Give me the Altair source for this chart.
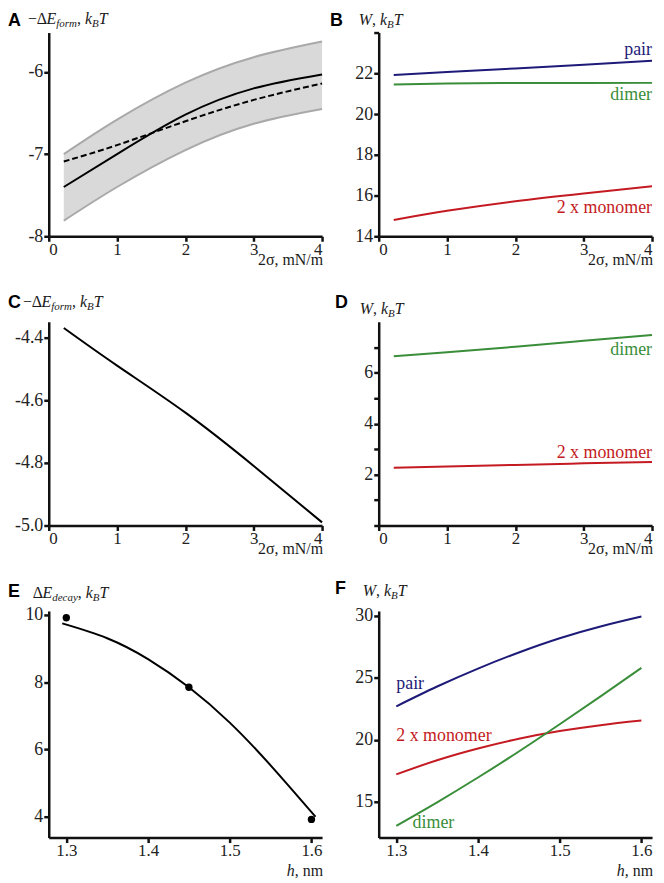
import altair as alt
import pandas as pd

SERIF = "Liberation Serif"
SANS = "Liberation Sans"
NAVY = "#1d1a78"
GREEN = "#3a8e3a"
RED = "#c41a22"
BAND = "#d9d9d9"
BAND_EDGE = "#a9a9a9"
INK = "#1a1a1a"

# ---------------- data ----------------
# Panel A
A_sigma = [0.22, 1, 2, 3, 4]
A_upper = [-7.00, -6.58, -6.13, -5.82, -5.63]
A_lower = [-7.81, -7.40, -6.95, -6.63, -6.45]
A_solid = [-7.40, -7.00, -6.52, -6.20, -6.03]
A_dashed = [-7.09, -6.89, -6.60, -6.34, -6.14]

# Panel B
B_sigma = [0.22, 1, 2, 3, 4]
B_pair = [21.92, 22.06, 22.24, 22.42, 22.61]
B_dimer = [21.45, 21.50, 21.52, 21.52, 21.53]
B_monomer = [14.80, 15.25, 15.72, 16.10, 16.46]
B_labels = ["pair", "dimer", "2 x monomer"]
B_label_x = [4, 4, 4]
B_label_y = [22.9, 20.67, 15.14]
B_label_color = [NAVY, GREEN, RED]

# Panel C
C_sigma = [0.22, 1, 2, 3, 4]
C_energy = [-4.37, -4.49, -4.64, -4.81, -4.99]

# Panel D
D_sigma = [0.22, 1, 2, 3, 4]
D_dimer = [6.65, 6.80, 7.02, 7.25, 7.48]
D_monomer = [2.27, 2.32, 2.38, 2.44, 2.49]
D_labels = ["dimer", "2 x monomer"]
D_label_x = [4, 4]
D_label_y = [6.71, 2.66]
D_label_color = [GREEN, RED]

# Panel E
E_pts_h = [1.3, 1.45, 1.6]
E_pts_v = [9.92, 7.85, 3.92]
E_fit_h = [1.295, 1.35, 1.4, 1.45, 1.5, 1.55, 1.605]
E_fit_v = [9.75, 9.31, 8.69, 7.85, 6.80, 5.53, 4.00]

# Panel F
F_h = [1.3, 1.35, 1.4, 1.45, 1.5, 1.55, 1.6]
F_pair = [22.7, 24.3, 25.75, 27.05, 28.2, 29.15, 29.95]
F_monomer = [17.2, 18.35, 19.3, 20.08, 20.7, 21.18, 21.55]
F_dimer = [13.05, 14.95, 16.95, 19.05, 21.25, 23.5, 25.8]
F_labels = ["pair", "2 x monomer", "dimer"]
F_label_x = [1.3, 1.3, 1.32]
F_label_y = [24.06, 19.9, 12.85]
F_label_color = [NAVY, RED, GREEN]

# ---------------- layout constants ----------------
PW = 275
PH1 = 205
PH3 = 228
ONE = pd.DataFrame({"k": [0]})

W_REG = {' ': 250, ',': 250, '\u2212': 564, '\u0394': 612, 'E': 611, 'W': 944,
         'k': 500, 'B': 667, 'T': 611, 'h': 500, 'n': 500, 'm': 778}
W_IT = {' ': 250, ',': 250, 'E': 611, 'W': 833, 'k': 444, 'B': 611, 'T': 556,
        'f': 278, 'o': 500, 'r': 389, 'm': 722, 'd': 500, 'e': 444, 'c': 444,
        'a': 500, 'y': 444, 'h': 500}


def text_width(s, size, italic):
    table = W_IT if italic else W_REG
    return sum(table.get(ch, 500) for ch in s) * size / 1000.0


def rich_text(pieces, x0, y0, align_right=False):
    total = sum(text_width(t, s, it) for t, s, it, dy in pieces)
    x = x0 - total if align_right else x0
    layers = []
    for t, s, it, dy in pieces:
        layers.append(
            alt.Chart(ONE).mark_text(
                text=t, font=SERIF, fontSize=s,
                fontStyle="italic" if it else "normal",
                align="left", baseline="alphabetic", color=INK,
            ).encode(x=alt.value(x), y=alt.value(y0 + dy))
        )
        x += text_width(t, s, it)
    return layers


def letter(ch, x, y):
    return alt.Chart(ONE).mark_text(
        text=ch, font=SANS, fontWeight="bold", fontSize=18,
        align="left", baseline="alphabetic", color="black",
    ).encode(x=alt.value(x), y=alt.value(y))


def plain_text(t, x, y, size=16, align="right"):
    return alt.Chart(ONE).mark_text(
        text=t, font=SERIF, fontSize=size, align=align,
        baseline="alphabetic", color=INK,
    ).encode(x=alt.value(x), y=alt.value(y))


AXIS_STYLE = dict(
    title=None, domainColor="#111111", domainWidth=2.5, tickColor="#111111",
    tickWidth=2.5, tickSize=5, labelFont=SERIF, labelColor="#222222", grid=False,
)


def xenc(field, dom, vals, fmt=None):
    kw = dict(values=vals, labelFontSize=17, labelPadding=0, **AXIS_STYLE)
    if fmt:
        kw["format"] = fmt
    return alt.X(field, type="quantitative",
                 scale=alt.Scale(domain=dom, nice=False, zero=False),
                 axis=alt.Axis(**kw))


def yenc(field, dom, vals, fmt=None, expr=None):
    kw = dict(values=vals, labelFontSize=18, labelPadding=1, **AXIS_STYLE)
    if fmt:
        kw["format"] = fmt
    kw["labelExpr"] = expr if expr else "replace(datum.label, '\u2212', '-')"
    return alt.Y(field, type="quantitative",
                 scale=alt.Scale(domain=dom, nice=False, zero=False),
                 axis=alt.Axis(**kw))


def line(df, xe, ye, color, width=2, dash=None, interp="natural"):
    kw = dict(color=color, strokeWidth=width, interpolate=interp)
    if dash:
        kw["strokeDash"] = dash
    return alt.Chart(df).mark_line(**kw).encode(x=xe, y=ye)


def labels(df, xe, ye, align):
    return alt.Chart(df).mark_text(
        font=SERIF, fontSize=18, align=align, baseline="alphabetic"
    ).encode(x=xe, y=ye, text="label:N",
             color=alt.Color("color:N", scale=None))


TITLE_E_FORM = [("\u2212\u0394", 16, False, 0), ("E", 16, True, 0), ("form", 11, True, 3),
                (", ", 16, False, 0), ("k", 16, True, 0), ("B", 11, True, 3), ("T", 16, True, 0)]
TITLE_W = [("W", 16, True, 0), (", ", 16, False, 0), ("k", 16, True, 0),
           ("B", 11, True, 3), ("T", 16, True, 0)]
TITLE_E_DECAY = [("\u0394", 16, False, 0), ("E", 16, True, 0), ("decay", 11, True, 3),
                 (", ", 16, False, 0), ("k", 16, True, 0), ("B", 11, True, 3), ("T", 16, True, 0)]
XT_H = [("h", 16, True, 0), (", nm", 16, False, 0)]

SIG_VALS = [0, 1, 2, 3, 4]
H_DOM = [1.2785, 1.613]
H_VALS = [1.3, 1.4, 1.5, 1.6]

# ---------------- Panel A ----------------
dfA = pd.DataFrame({"s": A_sigma, "up": A_upper, "lo": A_lower,
                    "solid": A_solid, "dash": A_dashed})
xa = xenc("s", [0, 4], SIG_VALS)
ya_dom = [-8, -5.52]
ya_vals = [-8, -7, -6]
panelA = alt.layer(
    alt.Chart(dfA).mark_area(color=BAND, opacity=1, interpolate="natural").encode(
        x=xa, y=yenc("lo", ya_dom, ya_vals), y2="up:Q"),
    line(dfA, xa, yenc("up", ya_dom, ya_vals), BAND_EDGE),
    line(dfA, xa, yenc("lo", ya_dom, ya_vals), BAND_EDGE),
    line(dfA, xa, yenc("solid", ya_dom, ya_vals), "black"),
    line(dfA, xa, yenc("dash", ya_dom, ya_vals), "black", dash=[6, 3]),
    *rich_text(TITLE_E_FORM, -21, -9),
    plain_text("2\u03c3, mN/m", 276, PH1 + 29),
    letter("A", -41, -7),
).properties(width=PW, height=PH1)

# ---------------- Panel B ----------------
dfB = pd.DataFrame({"s": B_sigma, "pair": B_pair, "dimer": B_dimer, "mono": B_monomer})
dfBl = pd.DataFrame({"x": B_label_x, "y": B_label_y, "label": B_labels, "color": B_label_color})
xb = xenc("s", [0, 4], SIG_VALS)
yb_dom = [14, 24]
yb_vals = [14, 16, 18, 20, 22, 24]
yb_expr = "datum.value >= 24 ? '' : datum.label"
panelB = alt.layer(
    line(dfB, xb, yenc("pair", yb_dom, yb_vals, expr=yb_expr), NAVY),
    line(dfB, xb, yenc("dimer", yb_dom, yb_vals, expr=yb_expr), GREEN),
    line(dfB, xb, yenc("mono", yb_dom, yb_vals, expr=yb_expr), RED),
    labels(dfBl, xenc("x", [0, 4], SIG_VALS), yenc("y", yb_dom, yb_vals, expr=yb_expr), "right"),
    *rich_text(TITLE_W, -20, -8),
    plain_text("2\u03c3, mN/m", 276, PH1 + 29),
    letter("B", -49, -7),
).properties(width=PW, height=PH1)

# ---------------- Panel C ----------------
dfC = pd.DataFrame({"s": C_sigma, "e": C_energy})
panelC = alt.layer(
    line(dfC, xenc("s", [0, 4], SIG_VALS),
         yenc("e", [-5.0, -4.35], [-5.0, -4.8, -4.6, -4.4], fmt=".1f"), "black"),
    *rich_text(TITLE_E_FORM, -26, -15),
    plain_text("2\u03c3, mN/m", 276, PH1 + 29),
    letter("C", -41, -14),
).properties(width=PW, height=PH1)

# ---------------- Panel D ----------------
dfD = pd.DataFrame({"s": D_sigma, "dimer": D_dimer, "mono": D_monomer})
dfDl = pd.DataFrame({"x": D_label_x, "y": D_label_y, "label": D_labels, "color": D_label_color})
yd_dom = [0, 8]
yd_vals = [0, 1, 2, 3, 4, 5, 6, 7]
yd_expr = "(datum.value % 2 == 0 && datum.value > 0) ? datum.label : ''"
xd = xenc("s", [0, 4], SIG_VALS)
panelD = alt.layer(
    line(dfD, xd, yenc("dimer", yd_dom, yd_vals, expr=yd_expr), GREEN),
    line(dfD, xd, yenc("mono", yd_dom, yd_vals, expr=yd_expr), RED),
    labels(dfDl, xenc("x", [0, 4], SIG_VALS), yenc("y", yd_dom, yd_vals, expr=yd_expr), "right"),
    *rich_text(TITLE_W, -19, -8),
    plain_text("2\u03c3, mN/m", 276, PH1 + 29),
    letter("D", -44, -14),
).properties(width=PW, height=PH1)

# ---------------- Panel E ----------------
dfEp = pd.DataFrame({"h": E_pts_h, "v": E_pts_v})
dfEf = pd.DataFrame({"h": E_fit_h, "v": E_fit_v})
ye_dom = [3.38, 10.12]
ye_vals = [4, 6, 8, 10]
panelE = alt.layer(
    line(dfEf, xenc("h", H_DOM, H_VALS, fmt=".1f"), yenc("v", ye_dom, ye_vals), "black"),
    alt.Chart(dfEp).mark_circle(size=55, color="black", opacity=1).encode(
        x=xenc("h", H_DOM, H_VALS, fmt=".1f"), y=yenc("v", ye_dom, ye_vals)),
    *rich_text(TITLE_E_DECAY, -16, -13),
    *rich_text(XT_H, 276, PH3 + 39, align_right=True),
    letter("E", -41, -14),
).properties(width=PW, height=PH3)

# ---------------- Panel F ----------------
dfF = pd.DataFrame({"h": F_h, "pair": F_pair, "mono": F_monomer, "dimer": F_dimer})
dfFl = pd.DataFrame({"x": F_label_x, "y": F_label_y, "label": F_labels, "color": F_label_color})
yf_dom = [12.1, 30.4]
yf_vals = [15, 20, 25, 30]
xf = xenc("h", H_DOM, H_VALS, fmt=".1f")
panelF = alt.layer(
    line(dfF, xf, yenc("pair", yf_dom, yf_vals), NAVY),
    line(dfF, xf, yenc("mono", yf_dom, yf_vals), RED),
    line(dfF, xf, yenc("dimer", yf_dom, yf_vals), GREEN),
    labels(dfFl, xenc("x", H_DOM, H_VALS, fmt=".1f"), yenc("y", yf_dom, yf_vals), "left"),
    *rich_text(TITLE_W, -16, -15),
    *rich_text(XT_H, 276, PH3 + 39, align_right=True),
    letter("F", -44, -17),
).properties(width=PW, height=PH3)

chart = alt.concat(
    panelA, panelB, panelC, panelD, panelE, panelF,
    columns=2, spacing={"row": 86, "column": 57}, bounds="flush",
).properties(padding=0, background="white").configure(
    font=SERIF, style={"guide-label": {"font": SERIF}}
).configure_view(stroke=None).configure_axis(
    labelFont=SERIF
)

chart.save("out.html", embed_options={"renderer": "svg", "actions": False})
